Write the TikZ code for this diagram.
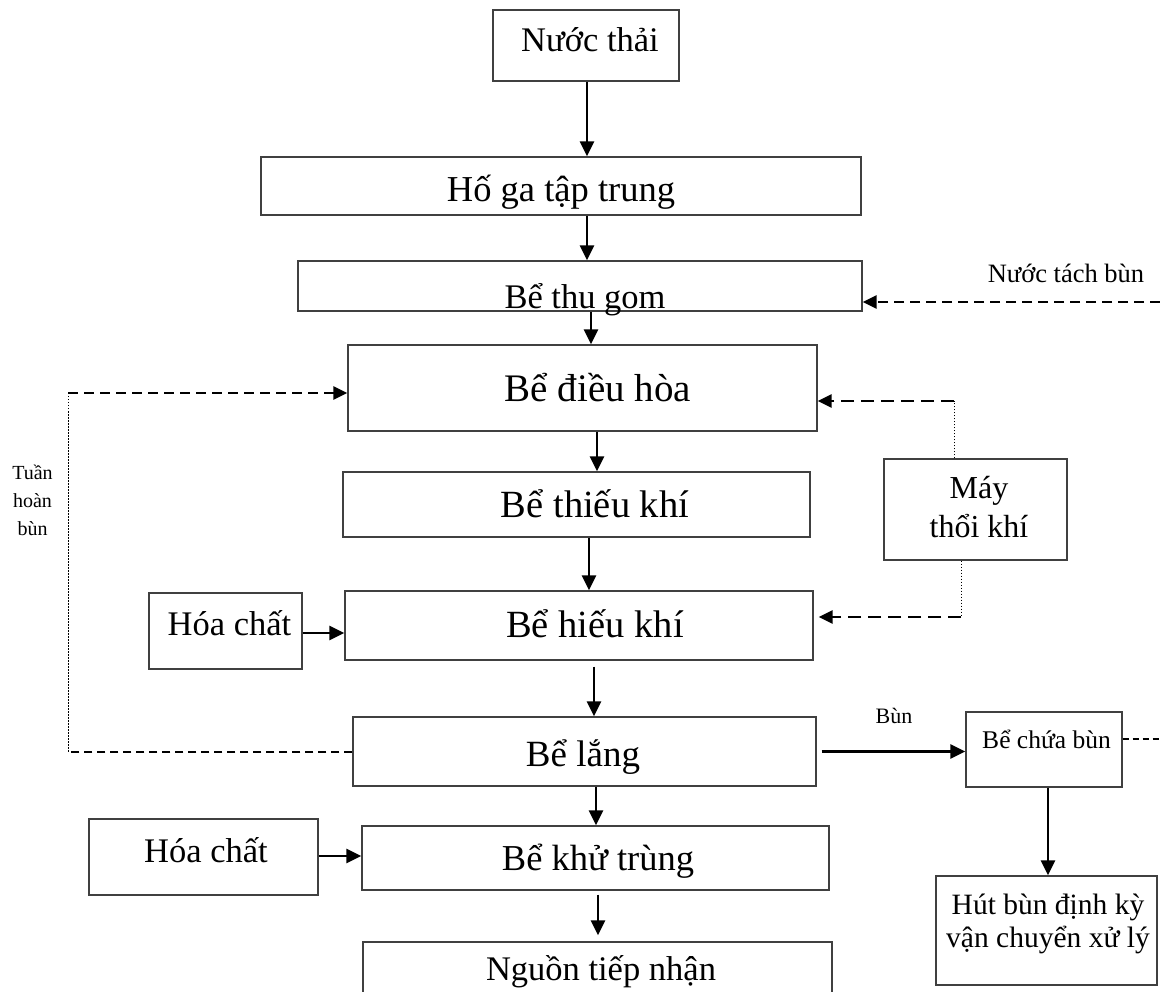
\documentclass[tikz,border=0pt]{standalone}
\usepackage{fontspec}
\setmainfont{Liberation Serif}
\usetikzlibrary{arrows.meta}
\tikzset{
  box/.style={draw=black!75, line width=1.3pt, inner sep=0pt},
  txt/.style={inner sep=0pt, anchor=base, font=\fontsize{34.5}{40}\selectfont},
  arr/.style={line width=2.4pt, -{Triangle[length=15pt,width=14pt]}},
  dasharr/.style={line width=2.6pt, dash pattern=on 10pt off 6pt, -{Triangle[length=14pt,width=13pt]}},
  dashmay/.style={line width=2.6pt, dash pattern=on 13pt off 7pt, -{Triangle[length=14pt,width=13pt]}},
  dashb/.style={line width=2.3pt, dash pattern=on 8pt off 5pt},
  dashc/.style={line width=1.6pt, dash pattern=on 6pt off 4pt},
  dotline/.style={line width=0.9pt, dash pattern=on 1.5pt off 1.5pt},
}
\begin{document}
\begin{tikzpicture}[x=1pt,y=-1pt]
\fill[white] (0,0) rectangle (1160,992);
\useasboundingbox (0,0) rectangle (1160,992);
\clip (0,0) rectangle (1160,992);

% boxes
\node[box, minimum width=186pt, minimum height=71pt] (nuoc) at (586,45.5) {};
\node[box, minimum width=600pt, minimum height=58pt] (hoga) at (561,186) {};
\node[box, minimum width=564pt, minimum height=50pt] (thugom) at (580,286) {};
\node[box, minimum width=469pt, minimum height=86pt] (dieuhoa) at (582.5,388) {};
\node[box, minimum width=467pt, minimum height=65pt] (thieukhi) at (576.5,504.5) {};
\node[box, minimum width=468pt, minimum height=69pt] (hieukhi) at (579,625.5) {};
\node[box, minimum width=153pt, minimum height=76pt] (hc1) at (225.5,631) {};
\node[box, minimum width=463pt, minimum height=69pt] (lang) at (584.5,751.5) {};
\node[box, minimum width=156pt, minimum height=75pt] (chuabun) at (1044,749.5) {};
\node[box, minimum width=221pt, minimum height=109pt] (hutbun) at (1046.5,930.5) {};
\node[box, minimum width=467pt, minimum height=64pt] (khutrung) at (595.5,858) {};
\node[box, minimum width=229pt, minimum height=76pt] (hc2) at (203.5,857) {};
\node[box, minimum width=469pt, minimum height=68pt] (nguon) at (597.5,976) {};
\node[box, minimum width=183pt, minimum height=101pt] (may) at (975.5,509.5) {};

% texts
\node[txt] (t-nuoc) at (590,52) {Nước thải};
\node[txt, font=\fontsize{36.5}{42}\selectfont] (t-hoga) at (561,202) {Hố ga tập trung};
\node[txt] (t-thugom) at (585,309) {Bể thu gom};
\node[txt, font=\fontsize{39}{44}\selectfont] (t-dieuhoa) at (598,402) {Bể điều hòa};
\node[txt, font=\fontsize{38.5}{44}\selectfont] (t-thieukhi) at (595,517) {Bể thiếu khí};
\node[txt, font=\fontsize{38.5}{44}\selectfont] (t-hieukhi) at (595,637) {Bể hiếu khí};
\node[txt, font=\fontsize{37}{42}\selectfont] (t-lang) at (583,766) {Bể lắng};
\node[txt, font=\fontsize{36.5}{42}\selectfont] (t-khutrung) at (598,870) {Bể khử trùng};
\node[txt] (t-nguon) at (601,980) {Nguồn tiếp nhận};
\node[txt] (t-hc1) at (229.5,635) {Hóa chất};
\node[txt] (t-hc2) at (206,862) {Hóa chất};
\node[txt, font=\fontsize{32}{38}\selectfont] (t-may1) at (979,498) {Máy};
\node[txt, font=\fontsize{32}{38}\selectfont] (t-may2) at (979,537) {thổi khí};
\node[txt, font=\fontsize{26.5}{30}\selectfont] (t-ntb) at (1066,283) {Nước tách bùn};
\node[txt, font=\fontsize{20}{24}\selectfont] (t-th1) at (32.5,479) {Tuần};
\node[txt, font=\fontsize{20}{24}\selectfont] (t-th2) at (32.5,507) {hoàn};
\node[txt, font=\fontsize{20}{24}\selectfont] (t-th3) at (32.5,535) {bùn};
\node[txt, font=\fontsize{22}{26}\selectfont] (t-bun) at (894,723) {Bùn};
\node[txt, font=\fontsize{25.5}{30}\selectfont] (t-cb) at (1046.5,748) {Bể chứa bùn};
\node[txt, font=\fontsize{29.5}{34}\selectfont] (t-hb1) at (1048,914) {Hút bùn định kỳ};
\node[txt, font=\fontsize{29.5}{34}\selectfont] (t-hb2) at (1048,947) {vận chuyển xử lý};

% main flow arrows
\draw[arr] ([xshift=1pt]nuoc.south) -- ([xshift=1pt]nuoc.south |- hoga.north);
\draw[arr] ([xshift=26pt]hoga.south) -- ([xshift=26pt]hoga.south |- thugom.north);
\draw[arr] ([xshift=11pt]thugom.south) -- ([xshift=11pt]thugom.south |- dieuhoa.north);
\draw[arr] ([xshift=14.5pt]dieuhoa.south) -- ([xshift=14.5pt]dieuhoa.south |- thieukhi.north);
\draw[arr] ([xshift=12.5pt]thieukhi.south) -- ([xshift=12.5pt]thieukhi.south |- hieukhi.north);
\draw[arr, shorten <=6pt] ([xshift=15pt]hieukhi.south) -- ([xshift=15pt]hieukhi.south |- lang.north);
\draw[arr] ([xshift=11.5pt]lang.south) -- ([xshift=11.5pt]lang.south |- khutrung.north);
\draw[arr, shorten <=4pt, shorten >=6pt] ([xshift=2.5pt]khutrung.south) -- ([xshift=2.5pt]khutrung.south |- nguon.north);

% chemicals
\draw[arr] ([yshift=-2pt]hc1.east) -- ([yshift=-2pt]hc1.east -| hieukhi.west);
\draw[arr] ([yshift=1pt]hc2.east) -- ([yshift=1pt]hc2.east -| khutrung.west);

% sludge
\draw[arr, shorten <=5pt] (lang.east) -- (lang.east -| chuabun.west);
\draw[arr] ([xshift=4pt]chuabun.south) -- ([xshift=4pt]chuabun.south |- hutbun.north);
\coordinate (cbr) at (1160,739);
\draw[dashc] (cbr -| chuabun.east) -- (cbr);

% separated water
\coordinate (ntb) at (1160,302);
\draw[dasharr] (ntb) -- (ntb -| thugom.east);

% blower
\coordinate (m1) at (954,401);
\draw[dotline] (m1 |- may.north) -- (m1);
\draw[dashmay] (m1) -- (m1 -| dieuhoa.east);
\coordinate (m2) at (961,617);
\draw[dotline] (m2 |- may.south) -- (m2);
\draw[dashmay, shorten >=5pt] (m2) -- (m2 -| hieukhi.east);

% return sludge
\coordinate (tl) at (68,393);
\coordinate (bl) at (68,752);
\draw[dotline] (tl) -- (bl);
\draw[dasharr] (tl) -- (tl -| dieuhoa.west);
\draw[dashb] (bl -| lang.west) -- (bl);
\end{tikzpicture}
\end{document}
